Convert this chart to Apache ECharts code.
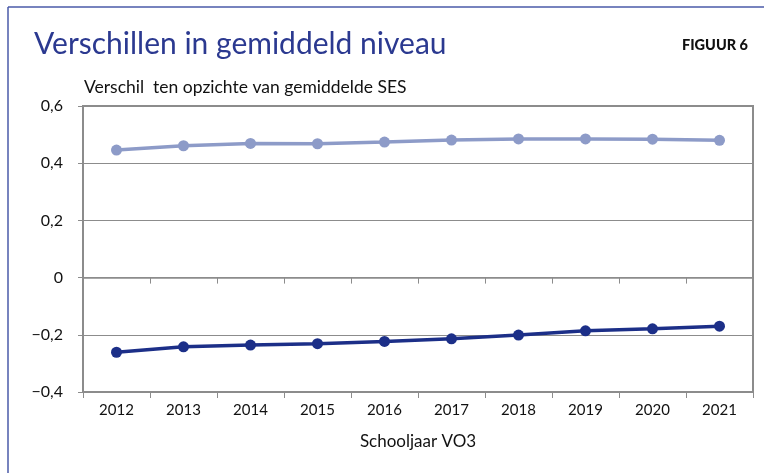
<!DOCTYPE html>
<html>
<head>
<meta charset="utf-8">
<script src="https://cdn.jsdelivr.net/npm/echarts@6/dist/echarts.min.js"></script>
<style>
html,body{margin:0;padding:0;background:#fff;}
#c{width:764px;height:473px;}
</style>
</head>
<body>
<div id="c"></div>
<script>
const years = ['2012','2013','2014','2015','2016','2017','2018','2019','2020','2021'];
const hoogSES = [0.446, 0.461, 0.469, 0.468, 0.474, 0.481, 0.485, 0.485, 0.484, 0.480];
const laagSES = [-0.261, -0.242, -0.236, -0.231, -0.223, -0.214, -0.201, -0.186, -0.179, -0.170];
const yTicks = {'0.6':'0,6','0.4':'0,4','0.2':'0,2','0':'0','-0.2':'−0,2','-0.4':'−0,4'};

const FONT = 'Lato, "Open Sans", sans-serif';
const grey = '#8c8c8c';
const chart = echarts.init(document.getElementById('c'), null, {renderer:'canvas'});
chart.setOption({
  animation:false,
  backgroundColor:'#fff',
  title:[
    {text:'Verschillen in gemiddeld niveau', left:29, top:24,
     textStyle:{fontFamily:FONT, fontSize:30, fontWeight:'normal', color:'#2b3990'}},
    {text:'FIGUUR 6', right:11, top:33,
     textStyle:{fontFamily:FONT, fontSize:14.5, fontWeight:900, color:'#111'}}
  ],
  graphic:[
    {type:'line', shape:{x1:8,y1:7,x2:764,y2:7}, style:{stroke:'#4a5aa8', lineWidth:1.5}},
    {type:'line', shape:{x1:8,y1:7,x2:8,y2:473}, style:{stroke:'#4a5aa8', lineWidth:1.5}}
  ],
  grid:{left:83, right:11, top:106, bottom:81, show:true, borderColor:grey, borderWidth:2, backgroundColor:'transparent'},
  xAxis:[
    {type:'category', data:years, boundaryGap:true, position:'bottom',
     axisLine:{onZero:false, lineStyle:{color:grey, width:2}},
     axisTick:{show:true, length:6, lineStyle:{color:grey, width:1}},
     axisLabel:{fontFamily:FONT, fontSize:15, color:'#111', margin:11},
     name:'Schooljaar VO3', nameLocation:'middle', nameGap:41,
     nameTextStyle:{fontFamily:FONT, fontSize:17, color:'#111'}},
    {type:'category', data:years, boundaryGap:true, position:'bottom',
     axisLine:{onZero:true, lineStyle:{color:grey, width:1.5}},
     axisTick:{show:true, length:6, lineStyle:{color:grey, width:1}},
     axisLabel:{show:false}}
  ],
  yAxis:{type:'value', min:-0.4, max:0.6, interval:0.2,
    axisLine:{show:true, lineStyle:{color:grey, width:2}},
    axisTick:{show:true, length:5, lineStyle:{color:grey}},
    splitLine:{show:true, lineStyle:{color:grey, width:1}},
    axisLabel:{fontFamily:FONT, fontSize:16, color:'#111', margin:20,
      formatter:v=>{const k=String(Math.round(v*10)/10); return yTicks[k]!==undefined?yTicks[k]:k;}},
    name:'Verschil  ten opzichte van gemiddelde SES', nameLocation:'end', nameGap:10,
    nameTextStyle:{fontFamily:FONT, fontSize:17.5, color:'#111', align:'left', padding:[0,0,0,1]}
  },
  series:[
    {type:'line', data:hoogSES, xAxisIndex:0, symbol:'circle', symbolSize:11,
     lineStyle:{color:'#8d9bc8', width:3.5}, itemStyle:{color:'#8d9bc8'}},
    {type:'line', data:laagSES, xAxisIndex:0, symbol:'circle', symbolSize:11,
     lineStyle:{color:'#1c2f88', width:3.5}, itemStyle:{color:'#1c2f88'}}
  ]
});
</script>
</body>
</html>
